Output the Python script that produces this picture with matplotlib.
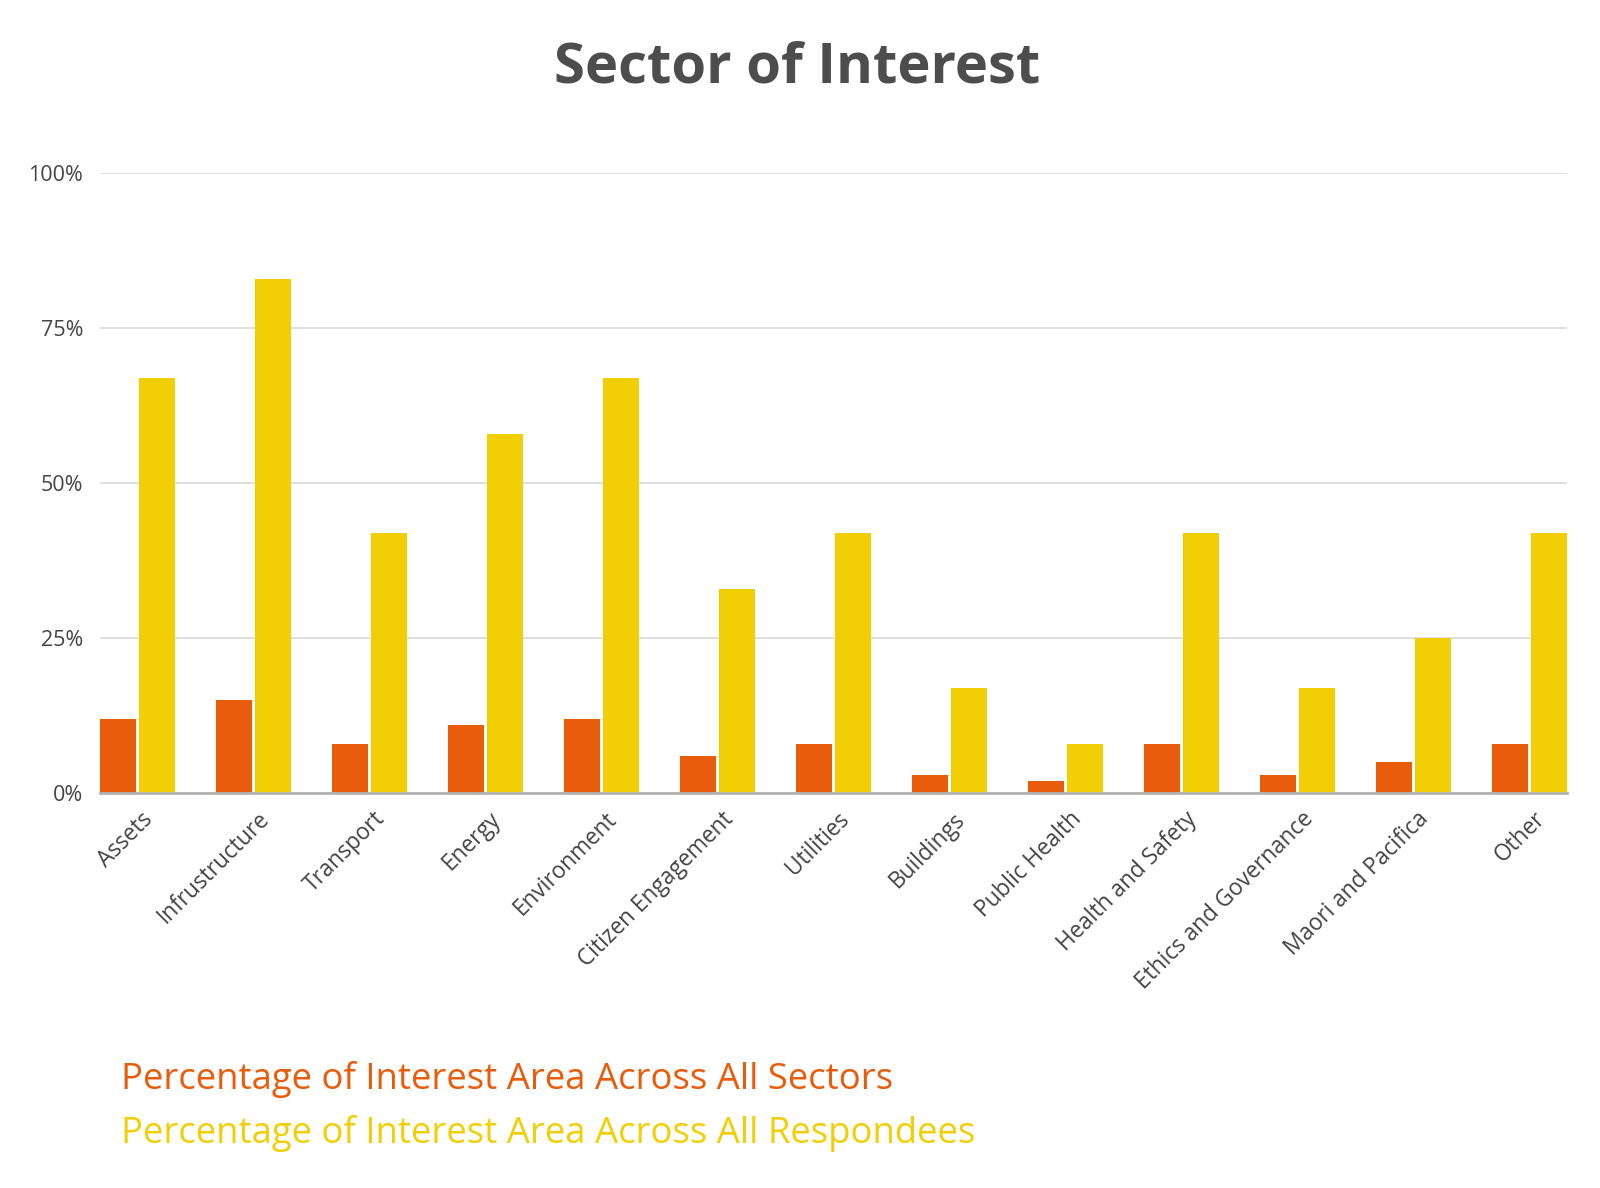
import matplotlib
matplotlib.use("Agg")
import matplotlib.pyplot as plt
import numpy as np

categories = ["Assets", "Infrustructure", "Transport", "Energy", "Environment",
              "Citizen Engagement", "Utilities", "Buildings", "Public Health",
              "Health and Safety", "Ethics and Governance", "Maori and Pacifica", "Other"]
sectors_pct = [12, 15, 8, 11, 12, 6, 8, 3, 2, 8, 3, 5, 8]
respondees_pct = [67, 83, 42, 58, 67, 33, 42, 17, 8, 42, 17, 25, 42]
yticks = [0, 25, 50, 75, 100]
ytick_labels = ["0%", "25%", "50%", "75%", "100%"]
series_labels = ["Percentage of Interest Area Across All Sectors",
                 "Percentage of Interest Area Across All Respondees"]

ORANGE = "#E95C0C"
YELLOW = "#F2CF05"
TXT = "#444444"

plt.rcParams['font.family'] = ['Open Sans', 'DejaVu Sans']

fig = plt.figure(figsize=(16, 11.88), dpi=100)
ax = fig.add_axes([0.0625, 0.3322, 0.917, 0.5219])

x = np.arange(len(categories))
w = 0.311
off = 0.169
ax.bar(x - off, sectors_pct, width=w, color=ORANGE, zorder=3)
ax.bar(x + off, respondees_pct, width=w, color=YELLOW, zorder=3)

ax.set_xlim(-off - w / 2, len(categories) - 1 + off + w / 2)
ax.set_ylim(0, 100)
ax.set_yticks(yticks)
ax.set_yticklabels(ytick_labels, fontsize=15.5, color=TXT)
ax.yaxis.grid(True, color="#dcdcdc", linewidth=1.3, zorder=0)
ax.set_axisbelow(True)
ax.tick_params(axis='y', length=0, pad=12)
ax.tick_params(axis='x', length=0, pad=10)
ax.set_xticks(x + 0.03)
ax.set_xticklabels(categories, rotation=45, ha='right', rotation_mode='anchor',
                   fontsize=16.3, color=TXT)
for s in ['top', 'right', 'left']:
    ax.spines[s].set_visible(False)
ax.spines['bottom'].set_color("#b3b3b3")
ax.spines['bottom'].set_linewidth(2)
ax.spines['bottom'].set_zorder(4)

fig.text(797 / 1600, 1 - 68 / 1188, "Sector of Interest", ha='center', va='center',
         fontsize=40.5, fontweight='bold', color="#4d4d4d")

fig.text(121 / 1600, 1 - 1080 / 1188, series_labels[0], ha='left', va='center',
         fontsize=26.3, color=ORANGE)
fig.text(121 / 1600, 1 - 1133 / 1188, series_labels[1], ha='left', va='center',
         fontsize=26.3, color=YELLOW)

fig.savefig("out.png", dpi=100, facecolor="white")
